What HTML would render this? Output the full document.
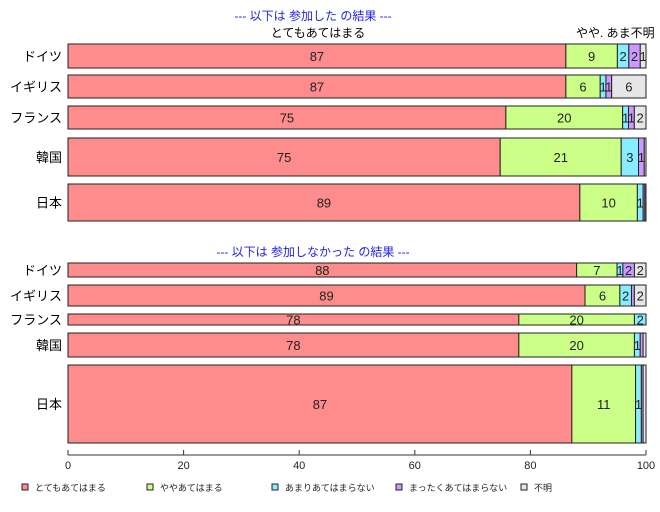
<!DOCTYPE html>
<html><head><meta charset="utf-8">
<style>
body{margin:0;background:#fff;}
svg{display:block;font-family:"Liberation Sans","Noto Sans CJK JP",sans-serif;}
</style></head>
<body>
<svg id="chart" width="660" height="512">
<text x="313" y="20" text-anchor="middle" fill="#2222ee" font-size="12">--- 以下は 参加した の結果 ---</text>
<text x="318" y="37" text-anchor="middle" fill="#000" font-size="12">とてもあてはまる</text>
<text x="576" y="37" fill="#000" font-size="12">やや. あま不明</text>
<text x="313" y="256" text-anchor="middle" fill="#2222ee" font-size="12">--- 以下は 参加しなかった の結果 ---</text>
<g id="bars"></g>
<g id="axis"></g>
<g id="legend"></g>
</svg>
<script>
const categories = ["ドイツ","イギリス","フランス","韓国","日本","ドイツ","イギリス","フランス","韓国","日本"];
const seriesNames = ["とてもあてはまる","ややあてはまる","あまりあてはまらない","まったくあてはまらない","不明"];
const sVery = [87,87,75,75,89,88,89,78,78,87];
const sSome = [9,6,20,21,10,7,6,20,20,11];
const sNotMuch = [2,1,1,3,1,1,2,2,1,1];
const sNotAll = [2,1,1,1,0.3,2,0.5,0,0.5,0.3];
const sUnknown = [1,6,2,0.3,0.2,2,2,0,0.5,0.5];
const xTicks = [0,20,40,60,80,100];
const colors = ["#ff8c8c","#ccff88","#88eeff","#cc99ff","#e6e6e6"];
const rowTop = [44,75,106,138,184,263,285,314,333,365];
const rowBot = [68,98,129,176,221,277,306,325,357,443];
const X0=68, X1=646;
const xs = v => X0 + (X1-X0)*v/100;
const NS="http://www.w3.org/2000/svg";
function mk(tag, attrs, parent){const e=document.createElementNS(NS,tag);for(const k in attrs)e.setAttribute(k,attrs[k]);parent.appendChild(e);return e;}
const bars=document.getElementById('bars');
const series=[sVery,sSome,sNotMuch,sNotAll,sUnknown];
categories.forEach((c,i)=>{
  const y0=rowTop[i], y1=rowBot[i], h=y1-y0;
  const lab=mk('text',{x:62,y:(y0+y1)/2+5,'text-anchor':'end','font-size':13,fill:'#000'},bars);
  lab.textContent=c;
  
  
  const tot=series.reduce((a,s)=>a+s[i],0);
  let cum=0;
  series.forEach((s,j)=>{
    const v=s[i]; if(v<=0)return;
    const xa=xs(cum/tot*100), xb=xs((cum+v)/tot*100);
    cum+=v;
    const r=mk('rect',{x:xa,y:y0,width:xb-xa,height:h,fill:colors[j],stroke:'#222','stroke-width':1},bars);
    
    
    if(v>=1){
      const t=mk('text',{x:(xa+xb)/2,y:(y0+y1)/2+5,'text-anchor':'middle','font-size':13,fill:'#222'},bars);
      t.textContent=Math.round(v);
      
      
    }
  });
});
const ax=document.getElementById('axis');
mk('line',{x1:X0,y1:455,x2:X1,y2:455,stroke:'#333'},ax);
xTicks.forEach(t=>{
  mk('line',{x1:xs(t),y1:455,x2:xs(t),y2:450,stroke:'#333'},ax);
  const tx=mk('text',{x:xs(t),y:469,'text-anchor':'middle','font-size':11,fill:'#222'},ax);
  tx.textContent=t;
  
  
});
const lg=document.getElementById('legend');
const lx=[22,147,272,396,521];
seriesNames.forEach((n,j)=>{
  const r=mk('rect',{x:lx[j],y:484,width:6,height:6,fill:colors[j],stroke:'#222'},lg);
  
  
  const t=mk('text',{x:lx[j]+13,y:491,'font-size':9,fill:'#222'},lg);
  t.textContent=n;
  
  
});
</script>
</body></html>
